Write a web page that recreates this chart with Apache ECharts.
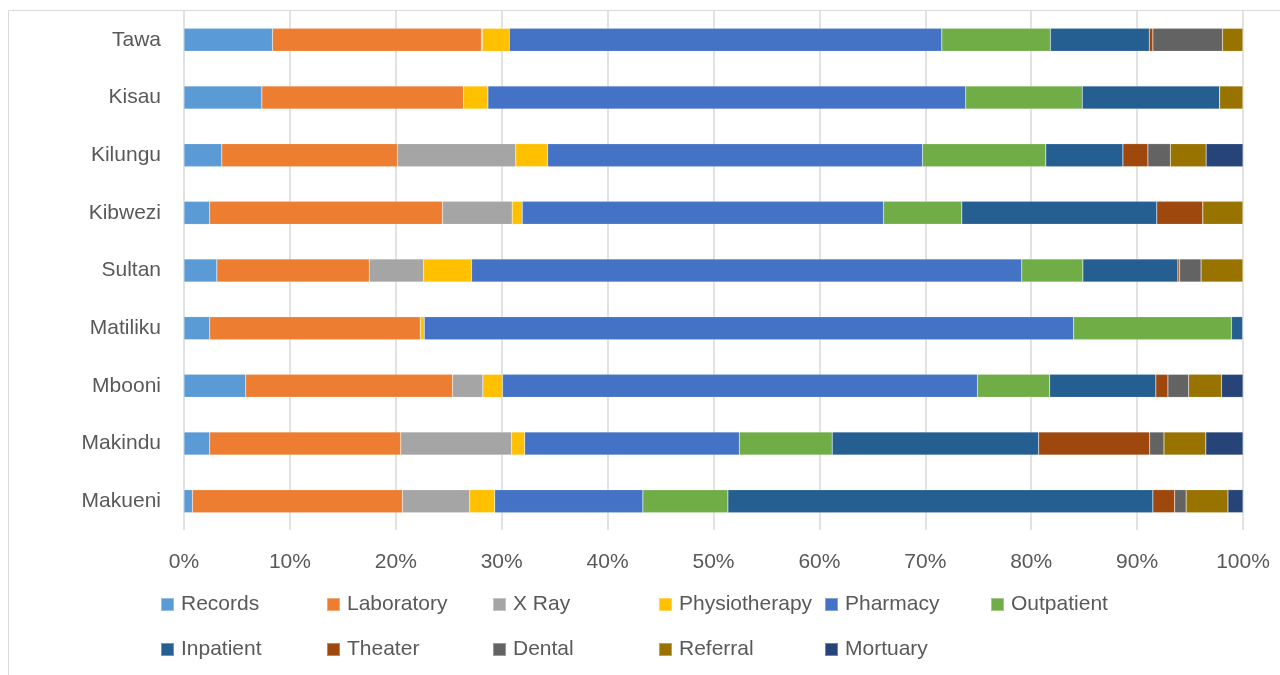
<!DOCTYPE html>
<html>
<head>
<meta charset="utf-8">
<script src="https://cdn.jsdelivr.net/npm/echarts@6/dist/echarts.min.js"></script>
<style>html,body{margin:0;padding:0;background:#fff}#chart{width:1280px;height:675px}</style>
</head>
<body>
<div id="chart"></div>
<script>
const categories = ['Tawa', 'Kisau', 'Kilungu', 'Kibwezi', 'Sultan', 'Matiliku', 'Mbooni', 'Makindu', 'Makueni'];
const xTicks = [0, 10, 20, 30, 40, 50, 60, 70, 80, 90, 100];

const records       = [8.36, 7.35, 3.57, 2.43, 3.10, 2.43, 5.83, 2.43, 0.80];
const laboratory    = [19.72, 19.05, 16.59, 21.98, 14.40, 19.89, 19.53, 18.04, 19.83];
const xRay          = [0.10, 0, 11.17, 6.58, 5.13, 0, 2.86, 10.46, 6.35];
const physiotherapy = [2.54, 2.30, 3.00, 0.95, 4.52, 0.37, 1.86, 1.24, 2.36];
const pharmacy      = [40.84, 45.12, 35.41, 34.12, 51.96, 61.31, 44.85, 20.27, 13.99];
const outpatient    = [10.25, 11.00, 11.64, 7.39, 5.77, 14.91, 6.82, 8.77, 8.03];
const inpatient     = [9.34, 12.98, 7.28, 18.41, 8.97, 1.09, 10.02, 19.49, 40.13];
const theater       = [0.34, 0, 2.36, 4.35, 0.17, 0, 1.14, 10.49, 2.06];
const dental        = [6.57, 0, 2.12, 0, 2.02, 0, 1.96, 1.35, 1.08];
const referral      = [1.94, 2.20, 3.38, 3.79, 3.96, 0, 3.10, 3.95, 3.95];
const mortuary      = [0, 0, 3.48, 0, 0, 0, 2.03, 3.51, 1.42];

const seriesDefs = [
  ['Records', records, '#5B9BD5'],
  ['Laboratory', laboratory, '#ED7D31'],
  ['X Ray', xRay, '#A5A5A5'],
  ['Physiotherapy', physiotherapy, '#FFC000'],
  ['Pharmacy', pharmacy, '#4472C4'],
  ['Outpatient', outpatient, '#70AD47'],
  ['Inpatient', inpatient, '#255E91'],
  ['Theater', theater, '#9E480E'],
  ['Dental', dental, '#636363'],
  ['Referral', referral, '#997300'],
  ['Mortuary', mortuary, '#264478']
];

const FONT = 'Liberation Sans';
const TXT = '#595959';

const legendCols = [160, 326, 492, 658, 824, 990];
const legendRows = [594, 639];
const legends = seriesDefs.map((s, i) => ({
  data: [s[0]],
  left: legendCols[i % 6],
  top: legendRows[Math.floor(i / 6)],
  icon: 'rect',
  itemWidth: 13,
  itemHeight: 13,
  padding: 0,
  selectedMode: false,
  textStyle: { fontFamily: FONT, fontSize: 21, color: TXT, padding: [0, 0, 0, 2] }
}));

const chart = echarts.init(document.getElementById('chart'), null, { renderer: 'canvas' });
chart.setOption({
  backgroundColor: '#ffffff',
  animation: false,
  graphic: [{
    type: 'rect', z: -10,
    shape: { x: 8.5, y: 10.5, width: 1400, height: 800 },
    style: { fill: 'none', stroke: '#d9d9d9', lineWidth: 1 }
  }],
  legend: legends,
  grid: { left: 184, right: 37, top: 11, bottom: 145 },
  xAxis: {
    type: 'value', min: xTicks[0], max: xTicks[xTicks.length - 1], interval: 10,
    axisLine: { show: false }, axisTick: { show: false },
    splitLine: { show: true, lineStyle: { color: '#d9d9d9', width: 1.5 } },
    axisLabel: { formatter: '{value}%', fontFamily: FONT, fontSize: 21, color: TXT, margin: 22 }
  },
  yAxis: {
    type: 'category', data: categories, inverse: true,
    axisLine: { show: false }, axisTick: { show: false },
    axisLabel: { fontFamily: FONT, fontSize: 21, color: TXT, margin: 23 }
  },
  series: seriesDefs.map(s => ({
    name: s[0], type: 'bar', stack: 'total', data: s[1], barWidth: 23,
    itemStyle: { color: s[2], borderColor: 'rgba(255,255,255,0.35)', borderWidth: 0.5 }
  }))
});
</script>
</body>
</html>
